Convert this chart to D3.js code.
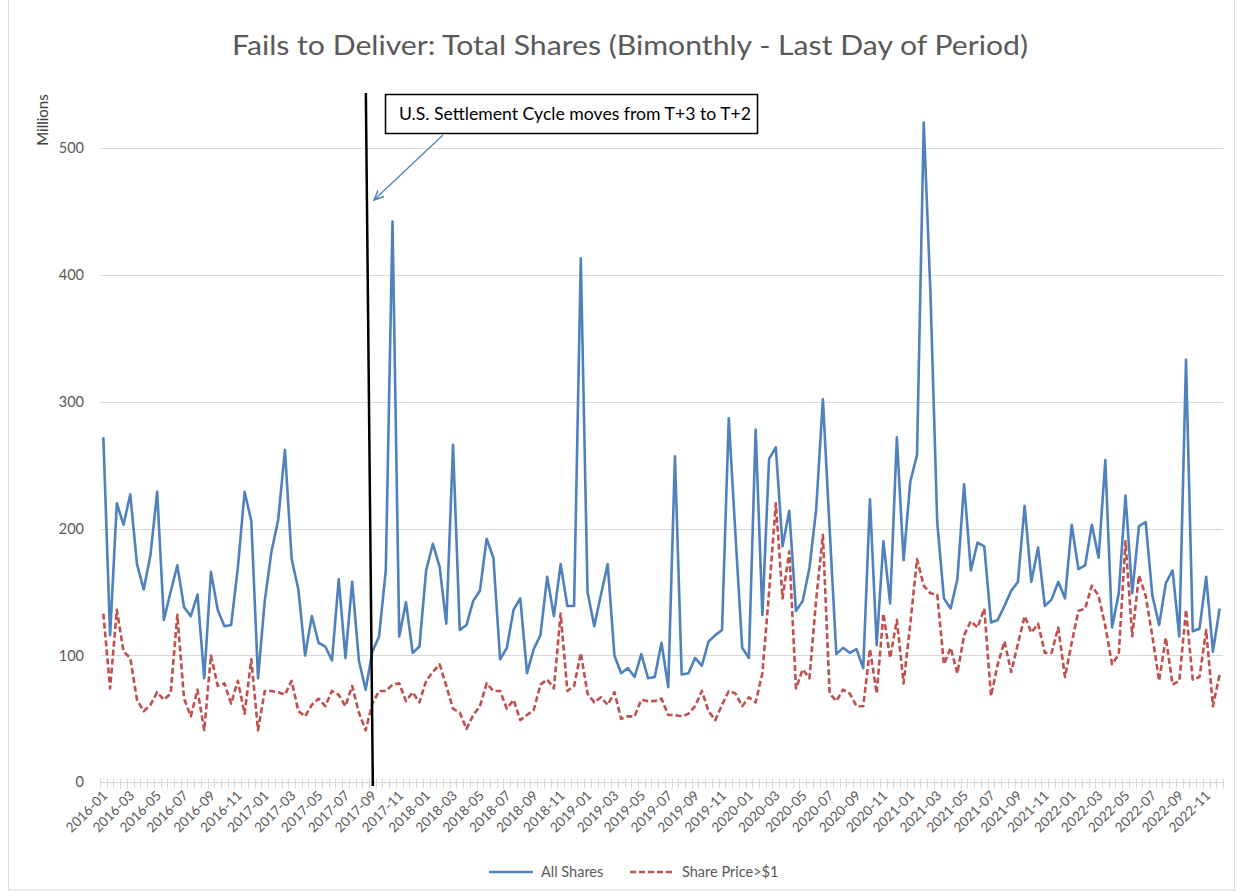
<!DOCTYPE html>
<html><head><meta charset="utf-8">
<script src="https://cdn.jsdelivr.net/npm/d3@7"></script>
<style>
body{margin:0;background:#fff;}
svg{display:block;font-family:Lato,'Open Sans',sans-serif;}
</style>
</head><body>
<svg id="chart" width="1237" height="892"></svg>
<script>
// ---- data (millions of shares, one value per half-month period) ----
const allShares = [
272,116,220,203,227,172,152,179,229,128,
150,171,138,131,148,82,166,136,123,124,
169,229,206,82,143,182,207,262,176,152,
100,131,110,107,96,160,98,158,96,73,
103,115,167,442,115,142,102,107,167,188,
170,125,266,120,124,143,151,192,177,97,
106,136,145,86,105,116,162,131,172,139,
139,413,150,123,148,172,100,86,90,83,
101,82,83,110,75,257,85,86,98,92,
111,116,120,287,195,106,98,278,132,255,
264,186,214,135,143,169,215,302,200,101,
106,102,105,90,223,108,190,141,272,175,
237,258,520,385,205,145,137,160,235,167,
189,186,126,128,139,151,158,218,158,185,
139,144,158,145,203,168,171,203,177,254,
122,149,226,149,202,205,147,124,157,167,
115,333,119,121,162,103,137
];
const priceAbove1 = [
133,74,136,103,98,65,56,61,71,65,
70,132,66,52,73,41,100,76,78,62,
80,54,97,41,72,72,71,69,80,56,
52,61,66,60,72,69,60,76,55,41,
62,72,72,77,78,64,71,63,80,87,
93,76,58,55,42,53,60,78,72,72,
58,65,49,53,57,77,81,74,133,72,
76,102,70,63,67,61,71,50,52,52,
65,64,64,66,53,53,52,54,60,72,
56,49,61,72,70,60,67,63,86,150,
220,145,182,74,89,82,144,195,70,64,
73,70,60,60,105,70,133,98,128,78,
125,176,155,149,148,93,106,86,116,127,
122,137,68,93,111,87,109,131,118,125,
102,102,122,83,110,135,137,155,147,123,
93,101,190,115,163,147,115,80,114,77,
80,136,81,83,120,60,85
];
const tickLabels = [
"2016-01","2016-03","2016-05","2016-07","2016-09","2016-11",
"2017-01","2017-03","2017-05","2017-07","2017-09","2017-11",
"2018-01","2018-03","2018-05","2018-07","2018-09","2018-11",
"2019-01","2019-03","2019-05","2019-07","2019-09","2019-11",
"2020-01","2020-03","2020-05","2020-07","2020-09","2020-11",
"2021-01","2021-03","2021-05","2021-07","2021-09","2021-11",
"2022-01","2022-03","2022-05","2022-07","2022-09","2022-11"
];
const periodsPerLabel = 4;
const yTicks = [0,100,200,300,400,500];
const seriesNames = ["All Shares","Share Price>$1"];
const titleText = "Fails to Deliver: Total Shares (Bimonthly - Last Day of Period)";
const yAxisTitle = "Millions";
const annotationText = "U.S. Settlement Cycle moves from T+3 to T+2";
const eventLabel = "2017-09";

// ---- layout ----
const svg = d3.select("#chart");
const plotL = 100, plotR = 1223, plotT = 148, plotB = 782.3;
const categories = d3.range(allShares.length);
const x = d3.scalePoint().domain(categories).range([plotL, plotR]).padding(0.5);
const y = d3.scaleLinear().domain([0, 500]).range([plotB, plotT]);
const step = x.step();
const gray = "#595959", gridC = "#d9d9d9";
const blue = "#4f81bd", red = "#c0504d";

// chart border
svg.append("rect").attr("x", 8.5).attr("y", -1).attr("width", 1226).attr("height", 891)
  .attr("fill", "#fff").attr("stroke", gridC).attr("stroke-width", 1);

// title
svg.append("text").attr("x", 630).attr("y", 55).attr("text-anchor", "middle")
  .attr("font-size", 27).attr("fill", gray)
  .attr("textLength", 796).attr("lengthAdjust", "spacingAndGlyphs")
  .text(titleText);

// gridlines
svg.append("g").selectAll("line").data(yTicks.filter(d => d > 0)).join("line")
  .attr("x1", plotL).attr("x2", plotR)
  .attr("y1", d => Math.round(y(d)) + 0.5).attr("y2", d => Math.round(y(d)) + 0.5)
  .attr("stroke", gridC).attr("stroke-width", 1);

// y labels
svg.append("g").selectAll("text").data(yTicks).join("text")
  .attr("x", 84).attr("y", d => y(d)).attr("dy", "0.35em").attr("text-anchor", "end")
  .attr("font-size", 14.5).attr("fill", gray).text(d => d);

svg.append("text").attr("transform", "translate(48,120) rotate(-90)")
  .attr("text-anchor", "middle").attr("font-size", 15).attr("fill", "#404040").text(yAxisTitle);

// x axis line + tick marks (between categories)
const axisY = Math.round(y(0)) + 0.5;
svg.append("line").attr("x1", plotL).attr("x2", plotR).attr("y1", axisY).attr("y2", axisY)
  .attr("stroke", gridC).attr("stroke-width", 1);
const bounds = d3.range(categories.length + 1).map(k => plotL + k * step);
svg.append("g").selectAll("line").data(bounds).join("line")
  .attr("x1", d => Math.round(d) + 0.5).attr("x2", d => Math.round(d) + 0.5)
  .attr("y1", axisY - 4).attr("y2", axisY + 6)
  .attr("stroke", gridC).attr("stroke-width", 1);

// x labels
svg.append("g").selectAll("text").data(tickLabels).join("text")
  .attr("text-anchor", "end").attr("font-size", 13.5).attr("fill", gray)
  .attr("transform", (d, j) => `translate(${x(j * periodsPerLabel) + 5},${axisY + 14}) rotate(-45)`)
  .text(d => d);

// series lines
const line = d3.line().x((d, i) => x(i)).y(d => y(d));
svg.append("path").datum(allShares).attr("d", line).attr("fill", "none")
  .attr("stroke", blue).attr("stroke-width", 2.6).attr("stroke-linejoin", "round");
svg.append("path").datum(priceAbove1).attr("d", line).attr("fill", "none")
  .attr("stroke", red).attr("stroke-width", 2.6).attr("stroke-dasharray", "6,3")
  .attr("stroke-linejoin", "round");

// event marker line (settlement cycle change)
const ex = x(tickLabels.indexOf(eventLabel) * periodsPerLabel);
svg.append("line").attr("x1", ex - 6.5).attr("y1", 93).attr("x2", ex + 0.5).attr("y2", 786)
  .attr("stroke", "#000").attr("stroke-width", 2.5);

// annotation box
svg.append("rect").attr("x", 385.5).attr("y", 94.5).attr("width", 372).attr("height", 39)
  .attr("fill", "#fff").attr("stroke", "#000").attr("stroke-width", 1.5);
svg.append("text").attr("x", 399).attr("y", 120).attr("font-size", 17).attr("fill", "#000")
  .attr("textLength", 352).attr("lengthAdjust", "spacingAndGlyphs").text(annotationText);

// arrow
const defs = svg.append("defs");
defs.append("marker").attr("id", "arr").attr("viewBox", "0 0 10 10").attr("refX", 9).attr("refY", 5)
  .attr("markerWidth", 9).attr("markerHeight", 9).attr("orient", "auto")
  .append("path").attr("d", "M0,1 L9,5 L0,9").attr("fill", "none").attr("stroke", "#4a7ebb").attr("stroke-width", 1.3);
svg.append("line").attr("x1", 443).attr("y1", 135).attr("x2", 374).attr("y2", 200)
  .attr("stroke", "#4a7ebb").attr("stroke-width", 1.2).attr("marker-end", "url(#arr)");

// legend
const legend = svg.append("g");
const legItems = [
  {name: seriesNames[0], color: blue, dash: null, x0: 489},
  {name: seriesNames[1], color: red, dash: "6,3", x0: 630}
];
legItems.forEach(it => {
  legend.append("line").attr("x1", it.x0).attr("x2", it.x0 + 44).attr("y1", 872).attr("y2", 872)
    .attr("stroke", it.color).attr("stroke-width", 2.5).attr("stroke-dasharray", it.dash);
  legend.append("text").attr("x", it.x0 + 52).attr("y", 872).attr("dy", "0.35em")
    .attr("font-size", 14.5).attr("fill", gray).text(it.name);
});
</script>
</body></html>
